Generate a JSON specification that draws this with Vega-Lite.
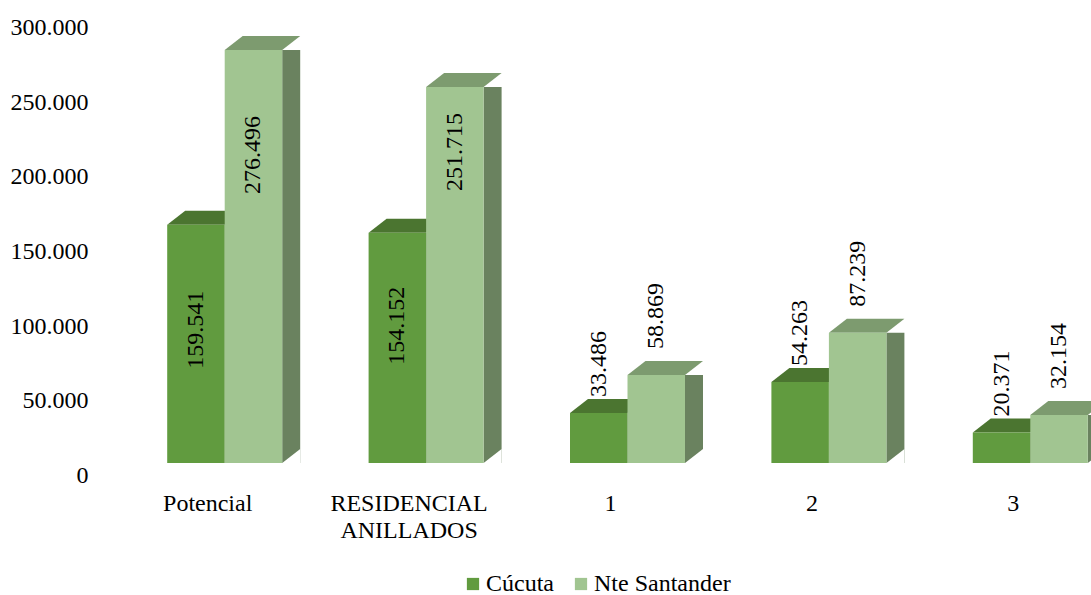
{
  "$schema": "https://vega.github.io/schema/vega-lite/v6.json",
  "autosize": "none",
  "width": 967,
  "height": 448,
  "padding": {"left": 124, "top": 15, "right": 0, "bottom": 132},
  "config": {
    "view": {"stroke": null},
    "font": "Liberation Serif",
    "locale": {"number": {"decimal": ",", "thousands": ".", "grouping": [3], "currency": ["$", ""]}}
  },
  "data": {
    "values": [
      {"cat": "Potencial", "serie": "Cúcuta", "valor": 159541},
      {"cat": "Potencial", "serie": "Nte Santander", "valor": 276496},
      {"cat": "RESIDENCIAL ANILLADOS", "serie": "Cúcuta", "valor": 154152},
      {"cat": "RESIDENCIAL ANILLADOS", "serie": "Nte Santander", "valor": 251715},
      {"cat": "1", "serie": "Cúcuta", "valor": 33486},
      {"cat": "1", "serie": "Nte Santander", "valor": 58869},
      {"cat": "2", "serie": "Cúcuta", "valor": 54263},
      {"cat": "2", "serie": "Nte Santander", "valor": 87239},
      {"cat": "3", "serie": "Cúcuta", "valor": 20371},
      {"cat": "3", "serie": "Nte Santander", "valor": 32154}
    ]
  },
  "encoding": {
    "x": {
      "field": "cat", "type": "nominal", "sort": null, "title": null,
      "scale": {"range": [0, 1007], "paddingInner": 0.429, "paddingOuter": 0.2145},
      "axis": {
        "domain": false, "ticks": false, "tickSize": 0, "labelAngle": 0,
        "labelFont": "Liberation Serif", "labelFontSize": 24, "labelColor": "#000000",
        "labelOffset": -17, "labelPadding": 28, "labelBaseline": "top", "labelLineHeight": 27,
        "labelExpr": "datum.value == 'RESIDENCIAL ANILLADOS' ? ['RESIDENCIAL', 'ANILLADOS'] : datum.label"
      }
    },
    "y": {
      "field": "valor", "type": "quantitative", "title": null,
      "scale": {"domain": [0, 300000], "nice": false},
      "axis": {
        "values": [0, 50000, 100000, 150000, 200000, 250000, 300000],
        "format": ",d", "grid": false, "domain": false, "ticks": false, "tickSize": 0,
        "labelFont": "Liberation Serif", "labelFontSize": 24, "labelColor": "#000000",
        "labelPadding": 36, "labelOffset": 12.5, "labelBaseline": "middle"
      }
    }
  },
  "layer": [
    {
      "mark": {"type": "bar", "y2Offset": -14},
      "encoding": {
        "xOffset": {
          "field": "serie", "type": "nominal",
          "scale": {"domain": ["Cúcuta", "Nte Santander"], "range": [57.5, 133], "paddingInner": 0.687, "paddingOuter": 0}
        },
        "fill": {"condition": {"test": "datum.serie == 'Cúcuta'", "value": "#3f6528"}, "value": "#6a825f"}
      }
    },
    {
      "mark": {"type": "point", "shape": "M28.75,0L46.75,0L46.75,-14Z", "size": 4, "filled": true, "opacity": 1, "strokeWidth": 0, "fill": "#ffffff"},
      "encoding": {
        "xOffset": {"field": "serie", "type": "nominal", "scale": {"type": "point", "domain": ["Cúcuta", "Nte Santander"], "padding": 0.5}},
        "y": {"datum": 0, "type": "quantitative"}
      }
    },
    {
      "mark": {"type": "point", "shape": "M-28.75,0L28.75,0L46.75,-14L-10.75,-14Z", "size": 4, "filled": true, "opacity": 1, "strokeWidth": 0},
      "encoding": {
        "xOffset": {"field": "serie", "type": "nominal", "scale": {"type": "point", "domain": ["Cúcuta", "Nte Santander"], "padding": 0.5}},
        "fill": {"condition": {"test": "datum.serie == 'Cúcuta'", "value": "#4b7530"}, "value": "#7d9b6f"}
      }
    },
    {
      "mark": {"type": "bar"},
      "encoding": {
        "xOffset": {"field": "serie", "type": "nominal", "scale": {"domain": ["Cúcuta", "Nte Santander"], "paddingInner": 0, "paddingOuter": 0}},
        "color": {
          "field": "serie", "type": "nominal",
          "scale": {"domain": ["Cúcuta", "Nte Santander"], "range": ["#619b3f", "#a1c591"]},
          "legend": {
            "orient": "none", "legendX": 337, "legendY": 557, "direction": "horizontal", "title": null,
            "symbolType": "square", "symbolSize": 150, "symbolStrokeWidth": 0,
            "labelFont": "Liberation Serif", "labelFontSize": 24, "labelColor": "#000000",
            "columnPadding": 15, "labelOffset": 1, "padding": 0
          }
        }
      }
    },
    {
      "transform": [{"filter": "datum.cat == 'Potencial'"}],
      "mark": {"type": "text", "angle": 270, "align": "right", "baseline": "middle", "dx": -66, "font": "Liberation Serif", "fontSize": 24, "color": "#000000"},
      "encoding": {
        "xOffset": {"field": "serie", "type": "nominal", "scale": {"type": "point", "domain": ["Cúcuta", "Nte Santander"], "padding": 0.5}},
        "text": {"field": "valor", "type": "quantitative", "format": ",d"}
      }
    },
    {
      "transform": [{"filter": "datum.cat == 'RESIDENCIAL ANILLADOS' && datum.serie == 'Cúcuta'"}],
      "mark": {"type": "text", "angle": 270, "align": "right", "baseline": "middle", "dx": -54, "font": "Liberation Serif", "fontSize": 24, "color": "#000000"},
      "encoding": {
        "xOffset": {"field": "serie", "type": "nominal", "scale": {"type": "point", "domain": ["Cúcuta", "Nte Santander"], "padding": 0.5}},
        "text": {"field": "valor", "type": "quantitative", "format": ",d"}
      }
    },
    {
      "transform": [{"filter": "datum.cat == 'RESIDENCIAL ANILLADOS' && datum.serie == 'Nte Santander'"}],
      "mark": {"type": "text", "angle": 270, "align": "right", "baseline": "middle", "dx": -26, "font": "Liberation Serif", "fontSize": 24, "color": "#000000"},
      "encoding": {
        "xOffset": {"field": "serie", "type": "nominal", "scale": {"type": "point", "domain": ["Cúcuta", "Nte Santander"], "padding": 0.5}},
        "text": {"field": "valor", "type": "quantitative", "format": ",d"}
      }
    },
    {
      "transform": [{"filter": "datum.valor <= 100000 && datum.serie == 'Cúcuta'"}],
      "mark": {"type": "text", "angle": 270, "align": "left", "baseline": "middle", "dx": 16, "font": "Liberation Serif", "fontSize": 24, "color": "#000000"},
      "encoding": {
        "xOffset": {"field": "serie", "type": "nominal", "scale": {"type": "point", "domain": ["Cúcuta", "Nte Santander"], "padding": 0.5}},
        "text": {"field": "valor", "type": "quantitative", "format": ",d"}
      }
    },
    {
      "transform": [{"filter": "datum.valor <= 100000 && datum.serie == 'Nte Santander'"}],
      "mark": {"type": "text", "angle": 270, "align": "left", "baseline": "middle", "dx": 26, "font": "Liberation Serif", "fontSize": 24, "color": "#000000"},
      "encoding": {
        "xOffset": {"field": "serie", "type": "nominal", "scale": {"type": "point", "domain": ["Cúcuta", "Nte Santander"], "padding": 0.5}},
        "text": {"field": "valor", "type": "quantitative", "format": ",d"}
      }
    }
  ],
  "resolve": {"scale": {"xOffset": "independent"}}
}
